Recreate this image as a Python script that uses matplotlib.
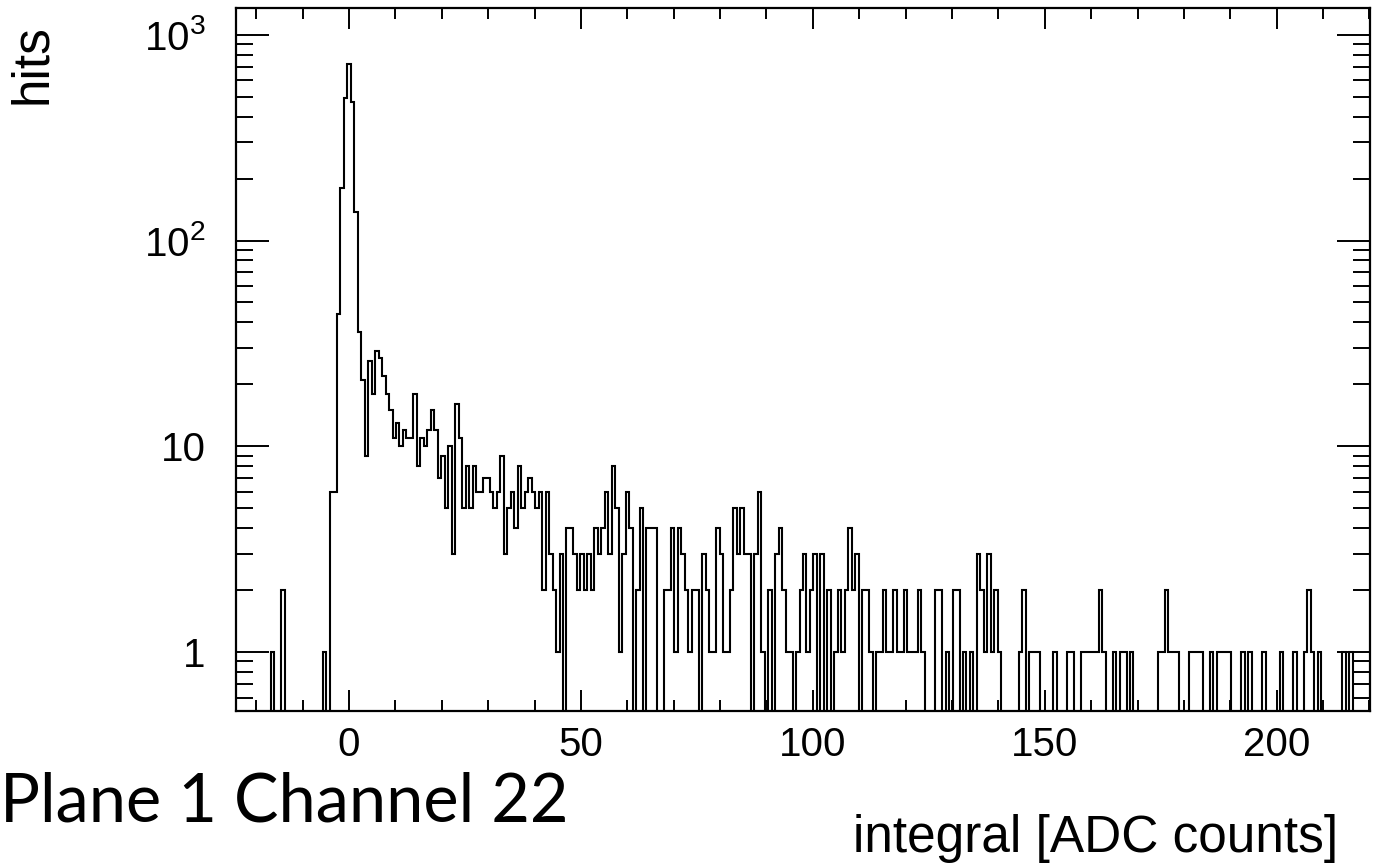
import numpy as np
import matplotlib
matplotlib.use("Agg")
import matplotlib.pyplot as plt
from matplotlib.ticker import FixedLocator, MultipleLocator, LogLocator, NullFormatter

plt.rcParams['font.family'] = 'Liberation Sans'
plt.rcParams['mathtext.fontset'] = 'custom'
plt.rcParams['mathtext.rm'] = 'Liberation Sans'
plt.rcParams['mathtext.it'] = 'Liberation Sans:italic'

# binning of the integral histogram (326 bins)
x_first_edge = -24.375
bin_width = 0.75

# hits per bin
counts = [
    0, 0, 0, 0, 0, 0, 0, 0, 0, 0,
    1, 0, 0, 2, 0, 0, 0, 0, 0, 0,
    0, 0, 0, 0, 0, 1, 0,
    6, 6, 44, 180, 491, 723, 473, 137, 36, 21,
    9, 26, 18, 29, 27, 22, 18, 15, 11, 13,
    10, 12, 11, 11, 18, 8, 11, 10, 12, 15,
    12, 7, 9, 5, 10, 3, 16, 11, 5, 8,
    5, 8, 6, 6, 7, 7, 6, 5, 6, 9,
    3, 5, 6, 4, 8, 5, 6, 7, 6, 5,
    6, 2, 6, 3, 2, 1, 3, 0, 4, 4,
    3, 2, 3, 2, 3, 2, 4, 3, 4, 6,
    3, 8, 5, 1, 3, 6, 4, 0, 2, 5,
    0, 4, 4, 4, 0, 0, 2, 2, 4, 1,
    4, 3, 2, 1, 2, 2, 0, 3, 2, 1,
    1, 4, 3, 1, 1, 2, 5, 3, 5, 3,
    3, 0, 3, 6, 1, 0, 2, 0, 3, 4,
    2, 1, 1, 0, 1, 2, 3, 1, 2, 3,
    0, 3, 0, 2, 0, 1, 2, 1, 2, 4,
    2, 3, 0, 2, 2, 1, 0, 1, 1, 2,
    1, 1, 2, 1, 1, 2, 1, 1, 1, 2,
    1, 0, 0, 0, 2, 2, 0, 1, 0, 2,
    2, 0, 1, 0, 1, 0, 3, 2, 1, 3,
    1, 2, 1, 0, 0, 0, 0, 0, 1, 2,
    0, 1, 1, 1, 0, 0, 0, 0, 1, 0,
    0, 0, 1, 1, 0, 0, 1, 1, 1, 1,
    1, 2, 1, 0, 0, 1, 0, 1, 1, 0,
    1, 0, 0, 0, 0, 0, 0, 0, 1, 1,
    2, 1, 1, 1, 0, 0, 0, 1, 1, 1,
    1, 0, 0, 1, 0, 1, 1, 1, 1, 0,
    0, 0, 1, 0, 1, 0, 0, 0, 1, 0,
    0, 0, 0, 1, 0, 0, 0, 1, 0, 0,
    1, 2, 1, 0, 1, 0, 0, 0, 0, 0,
    0, 1, 0, 1, 0, 0, 0, 0, 0,
]

counts = np.array(counts, dtype=float)
edges = x_first_edge + bin_width * np.arange(len(counts) + 1)

fig = plt.figure(figsize=(13.73, 8.66), dpi=100)
ax = fig.add_axes([236 / 1373, 1 - 711 / 866, 1134 / 1373, 703 / 866])

# empty bins drop to the bottom of the log axis
ax.stairs(np.where(counts > 0, counts, 1e-3), edges, baseline=None,
          color='black', lw=1.5)

ax.set_yscale('log')
ax.set_xlim(edges[0], edges[-1])
ax.set_ylim(0.517, 1350)

ax.xaxis.set_major_locator(MultipleLocator(50))
ax.xaxis.set_minor_locator(MultipleLocator(10))
ax.yaxis.set_major_locator(FixedLocator([1, 10, 100, 1000]))
ax.set_yticklabels(['1', '10', r'$10^{2}$', r'$10^{3}$'])
ax.yaxis.set_minor_locator(LogLocator(base=10, subs=np.arange(2, 10)))
ax.yaxis.set_minor_formatter(NullFormatter())

ax.tick_params(which='both', direction='in', top=True, right=True, width=1.4)
ax.tick_params(axis='x', which='major', length=15, labelsize=29, pad=11)
ax.tick_params(axis='x', which='minor', length=8)
ax.tick_params(axis='y', which='major', length=24, labelsize=29, pad=22)
ax.tick_params(axis='y', which='minor', length=12)
for sp in ax.spines.values():
    sp.set_linewidth(1.6)

fig.text(32 / 1373, 1 - 24 / 866, 'hits', rotation=90, ha='center', va='top',
         fontsize=37)
fig.text(1338 / 1373, 1 - 852 / 866, 'integral [ADC counts]', ha='right',
         va='baseline', fontsize=37)

# channel caption, sized to span the lower left corner
cap = fig.text(0.0, 1 - 822 / 866, 'Plane 1 Channel 22', family='Lato',
               fontsize=50, va='baseline')
fig.canvas.draw()
w = cap.get_window_extent().width
cap.set_fontsize(50 * 568 / w)

fig.savefig('out.png', dpi=100)
